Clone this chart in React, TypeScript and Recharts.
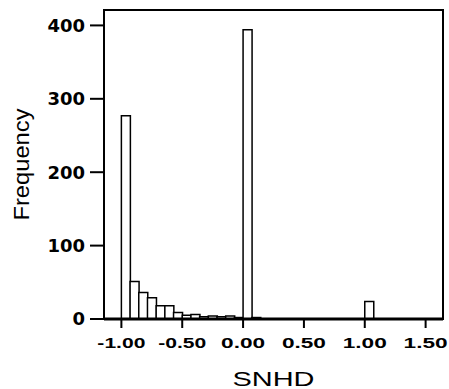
import React from "react";
import { BarChart, Bar, XAxis, YAxis, ReferenceArea, Label } from "recharts";

// histogram bins of SNHD, width 1/14, first bin starts at -16/14
const binWidth = 1 / 14;
const firstBin = -16;
const counts = [
  0, 0, 277, 51, 36, 29, 18, 18, 9, 5, 6, 3, 4, 3, 4, 2, 394, 2, 0, 0, 0, 0, 0,
  0, 0, 0, 0, 0, 0, 0, 24, 0, 0, 0, 0, 0, 0, 0, 0,
];
const xTicks = [-1, -0.5, 0, 0.5, 1, 1.5];
const yTicks = [0, 100, 200, 300, 400];
const xLabel = "SNHD";
const yLabel = "Frequency";

const xMin = firstBin * binWidth;
const xMax = (firstBin + counts.length) * binWidth;
const yMax = 421;

const data = counts.map((count, i) => ({
  bin: String(firstBin + i),
  mid: (firstBin + i + 0.5) * binWidth,
  count,
}));

const font = "'Liberation Sans', Arial, sans-serif";

const XTick = (props: any) => {
  const { x, y, payload } = props;
  const s = Number(payload.value).toFixed(2);
  return (
    <text
      x={x}
      y={y + 20}
      textAnchor="middle"
      fontFamily={font}
      fontWeight="bold"
      fontSize={14}
      fill="#000"
      textLength={s.length > 4 ? 48 : 44}
      lengthAdjust="spacingAndGlyphs"
    >
      {s}
    </text>
  );
};

// both axis titles, drawn from the x axis label slot
const Titles = (p: any) => {
  const vb = p.viewBox;
  const cy = 10 + (vb.y - 10) / 2;
  return (
    <g>
      <text
        x={vb.x + vb.width / 2}
        y={386}
        textAnchor="middle"
        fontFamily={font}
        fontSize={21}
        fill="#000"
        textLength={82}
        lengthAdjust="spacingAndGlyphs"
      >
        {xLabel}
      </text>
      <text
        x={29}
        y={cy}
        transform={`rotate(-90 29 ${cy})`}
        textAnchor="middle"
        fontFamily={font}
        fontSize={22}
        fill="#000"
        textLength={112}
        lengthAdjust="spacingAndGlyphs"
      >
        {yLabel}
      </text>
    </g>
  );
};

export default function App() {
  return (
    <div style={{ position: "absolute", left: 0, top: 0, background: "#fff" }}>
      <BarChart
        width={449}
        height={389}
        data={data}
        margin={{ top: 10, right: 6, left: 0, bottom: 0 }}
        barCategoryGap={0}
        barGap={0}
      >
        <XAxis xAxisId="bins" dataKey="bin" hide height={0} />
        <XAxis
          xAxisId="val"
          dataKey="mid"
          type="number"
          domain={[xMin, xMax]}
          allowDataOverflow
          ticks={xTicks}
          interval={0}
          height={70}
          tickSize={9}
          tickMargin={0}
          tick={<XTick />}
          axisLine={{ stroke: "#000", strokeWidth: 3 }}
          tickLine={{ stroke: "#000", strokeWidth: 2 }}
        >
          <Label content={Titles} />
        </XAxis>
        <YAxis
          yAxisId="left"
          domain={[0, yMax]}
          ticks={yTicks}
          width={104}
          tickSize={14}
          tickMargin={5}
          tick={{
            fill: "#000",
            fontSize: 18,
            fontWeight: "bold",
            fontFamily: "'DejaVu Sans', sans-serif",
          }}
          axisLine={{ stroke: "#000", strokeWidth: 2 }}
          tickLine={{ stroke: "#000", strokeWidth: 2 }}
        />
        <ReferenceArea
          xAxisId="val"
          yAxisId="left"
          x1={xMin}
          x2={xMax}
          y1={0}
          y2={yMax}
          fill="none"
          stroke="#000"
          strokeWidth={2}
          ifOverflow="visible"
        />
        <Bar
          xAxisId="bins"
          yAxisId="left"
          dataKey="count"
          fill="#fff"
          stroke="#000"
          strokeWidth={1.5}
          isAnimationActive={false}
        />
      </BarChart>
    </div>
  );
}
